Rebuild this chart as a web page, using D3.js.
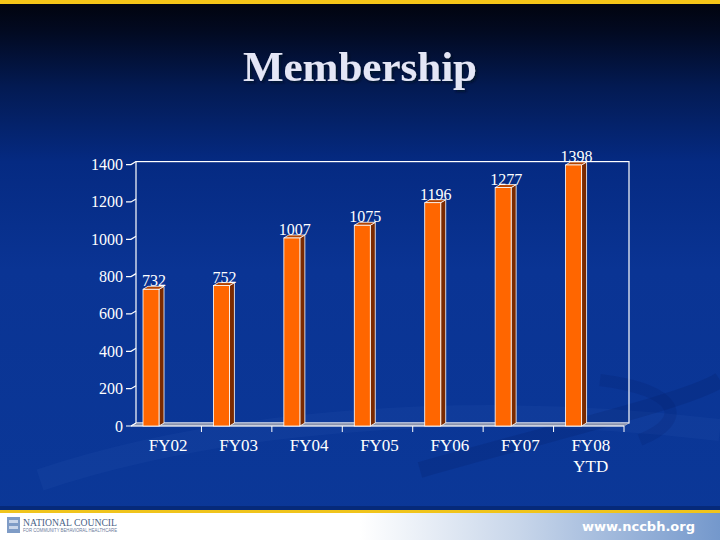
<!DOCTYPE html>
<html><head><meta charset="utf-8">
<script src="https://cdn.jsdelivr.net/npm/d3@7"></script>
<style>html,body{margin:0;padding:0;background:#0a3596;}svg{display:block;}</style>
</head><body>
<script>
const categories = ["FY02","FY03","FY04","FY05","FY06","FY07","FY08\nYTD"];
const members = [732, 752, 1007, 1075, 1196, 1277, 1398];
const yTicks = [0, 200, 400, 600, 800, 1000, 1200, 1400];
const titleText = "Membership";
const footerUrl = "www.nccbh.org";

const W = 720, H = 540;
const svg = d3.select("body").append("svg").attr("width", W).attr("height", H);
const defs = svg.append("defs");

// background gradient
const bg = defs.append("linearGradient").attr("id","bg").attr("x1",0).attr("y1",0).attr("x2",0).attr("y2",1);
[[0,"#01030c"],[0.06,"#020a22"],[0.16,"#031a52"],[0.3,"#052a82"],[0.5,"#0a3494"],[1,"#0b3898"]]
  .forEach(([o,c])=>bg.append("stop").attr("offset",o).attr("stop-color",c));
svg.append("rect").attr("width",W).attr("height",H).attr("fill","url(#bg)");

// title shadow filter
const f = defs.append("filter").attr("id","ts").attr("x","-10%").attr("y","-20%").attr("width","130%").attr("height","150%");
f.append("feDropShadow").attr("dx",2).attr("dy",2).attr("stdDeviation",1).attr("flood-color","#000820").attr("flood-opacity",0.7);

// subtle swooshes
svg.append("path").attr("d","M40,480 C220,420 470,400 720,430").attr("fill","none")
  .attr("stroke","rgba(90,130,210,0.07)").attr("stroke-width",22);
svg.append("path").attr("d","M420,470 C560,430 690,400 720,380").attr("fill","none")
  .attr("stroke","rgba(0,20,80,0.15)").attr("stroke-width",16);
svg.append("path").attr("d","M600,380 C680,390 690,420 640,440").attr("fill","none")
  .attr("stroke","rgba(0,20,80,0.12)").attr("stroke-width",12);

// top yellow strip
svg.append("rect").attr("x",0).attr("y",0).attr("width",W).attr("height",4).attr("fill","#f5c518");

// title
svg.append("text").attr("x",360).attr("y",81).attr("text-anchor","middle")
  .attr("font-family","Liberation Serif, serif").attr("font-weight","bold").attr("font-size",43)
  .attr("fill","#e4e6f6").attr("filter","url(#ts)").text(titleText);

// scales
const x = d3.scaleBand().domain(categories).range([131, 624]).paddingInner(0).paddingOuter(0);
const y = d3.scaleLinear().domain([0, 1400]).range([426, 164.6]);
const dx = 5, dy = -3;
const serif = "Liberation Serif, Times New Roman, serif";

// back wall
svg.append("rect").attr("x", 131+dx).attr("y", y(1400)+dy).attr("width", 624-131)
  .attr("height", y(0)-y(1400)).attr("fill","none").attr("stroke","#ffffff").attr("stroke-width",1.2);

// floor
svg.append("path").attr("d",`M131,${y(0)} L${131+dx},${y(0)+dy} L${624+dx},${y(0)+dy} L624,${y(0)} Z`)
  .attr("fill","#8a93ad").attr("stroke","#c8cce0").attr("stroke-width",0.6);

// x axis baseline and ticks
const gx = svg.append("g");
gx.append("line").attr("x1",131).attr("x2",624).attr("y1",y(0)).attr("y2",y(0)).attr("stroke","#ffffff").attr("stroke-width",1);
const bounds = categories.map(c=>x(c)).concat([624]);
gx.selectAll("line.t").data(bounds.slice(1)).join("line").attr("class","t")
  .attr("x1",d=>d).attr("x2",d=>d).attr("y1",y(0)).attr("y2",y(0)+6).attr("stroke","#ffffff").attr("stroke-width",1);

// y axis ticks + labels
const gy = svg.append("g");
gy.selectAll("path.tk").data(yTicks).join("path").attr("class","tk")
  .attr("d",d=>`M126,${y(d)} L131,${y(d)} L${131+dx},${y(d)+dy}`)
  .attr("fill","none").attr("stroke","#ffffff").attr("stroke-width",1.2);
gy.selectAll("text").data(yTicks).join("text")
  .attr("x",123).attr("y",d=>y(d)+5.5).attr("text-anchor","end")
  .attr("font-family",serif).attr("font-size",16).attr("fill","#ffffff").text(d=>d);

// bars
const bw = 16, off = 12;
const bars = svg.append("g").selectAll("g").data(categories.map((c,i)=>({c, v: members[i]}))).join("g");
// side face
bars.append("path").attr("d",d=>{
  const x0 = x(d.c)+off+bw, t = y(d.v), b = y(0);
  return `M${x0},${t} L${x0+dx},${t+dy} L${x0+dx},${b+dy} L${x0},${b} Z`;
}).attr("fill","#7a2a00").attr("stroke","#ffffff").attr("stroke-width",0.8);
// top face
bars.append("path").attr("d",d=>{
  const x0 = x(d.c)+off, t = y(d.v);
  return `M${x0},${t} L${x0+dx},${t+dy} L${x0+bw+dx},${t+dy} L${x0+bw},${t} Z`;
}).attr("fill","#b44400").attr("stroke","#ffffff").attr("stroke-width",0.8);
// front face
bars.append("rect").attr("x",d=>x(d.c)+off).attr("y",d=>y(d.v)).attr("width",bw)
  .attr("height",d=>y(0)-y(d.v)).attr("fill","#ff6600").attr("stroke","#ffffff").attr("stroke-width",0.8);
// value labels
bars.append("text").attr("x",d=>x(d.c)+off+bw/2+3).attr("y",d=>y(d.v)-3)
  .attr("text-anchor","middle").attr("font-family",serif).attr("font-size",16).attr("fill","#ffffff")
  .text(d=>d.v);

// category labels
const cl = svg.append("g").selectAll("text").data(categories).join("text")
  .attr("x",d=>x(d)+x.bandwidth()/2+2).attr("y",451).attr("text-anchor","middle")
  .attr("font-family",serif).attr("font-size",17).attr("fill","#ffffff");
cl.each(function(d){
  const lines = d.split("\n");
  const t = d3.select(this);
  lines.forEach((ln,i)=>t.append("tspan").attr("x",x(d)+x.bandwidth()/2+2).attr("dy",i===0?0:21).text(ln));
});

// footer
const fg = defs.append("linearGradient").attr("id","fg").attr("x1",0).attr("y1",0).attr("x2",1).attr("y2",0);
[[0,"#ffffff"],[0.5,"#ffffff"],[0.72,"#c8d6ea"],[1,"#7498cc"]]
  .forEach(([o,c])=>fg.append("stop").attr("offset",o).attr("stop-color",c));
svg.append("rect").attr("x",0).attr("y",506).attr("width",W).attr("height",4).attr("fill","#062a7a");
svg.append("rect").attr("x",0).attr("y",510).attr("width",W).attr("height",3).attr("fill","#f0c41c");
svg.append("rect").attr("x",0).attr("y",513).attr("width",W).attr("height",27).attr("fill","url(#fg)");
// logo
svg.append("rect").attr("x",7).attr("y",517).attr("width",13).attr("height",16).attr("fill","#7f9cc6");
svg.append("rect").attr("x",9).attr("y",520).attr("width",9).attr("height",3).attr("fill","#c9d6ea");
svg.append("rect").attr("x",9).attr("y",526).attr("width",9).attr("height",3).attr("fill","#c9d6ea");
svg.append("text").attr("x",23).attr("y",526).attr("font-family","Liberation Serif, serif").attr("font-size",10.5)
  .attr("fill","#4a5f86").attr("textLength",94).attr("lengthAdjust","spacingAndGlyphs").text("NATIONAL COUNCIL");
svg.append("text").attr("x",23).attr("y",532).attr("font-family","Liberation Sans, sans-serif").attr("font-size",4.5)
  .attr("fill","#6a7a9a").attr("textLength",94).attr("lengthAdjust","spacingAndGlyphs").text("FOR COMMUNITY BEHAVIORAL HEALTHCARE");
svg.append("text").attr("x",695).attr("y",531).attr("text-anchor","end")
  .attr("font-family","DejaVu Sans, sans-serif").attr("font-weight","bold").attr("font-size",13)
  .attr("fill","#ffffff").text(footerUrl);
</script>
</body></html>
